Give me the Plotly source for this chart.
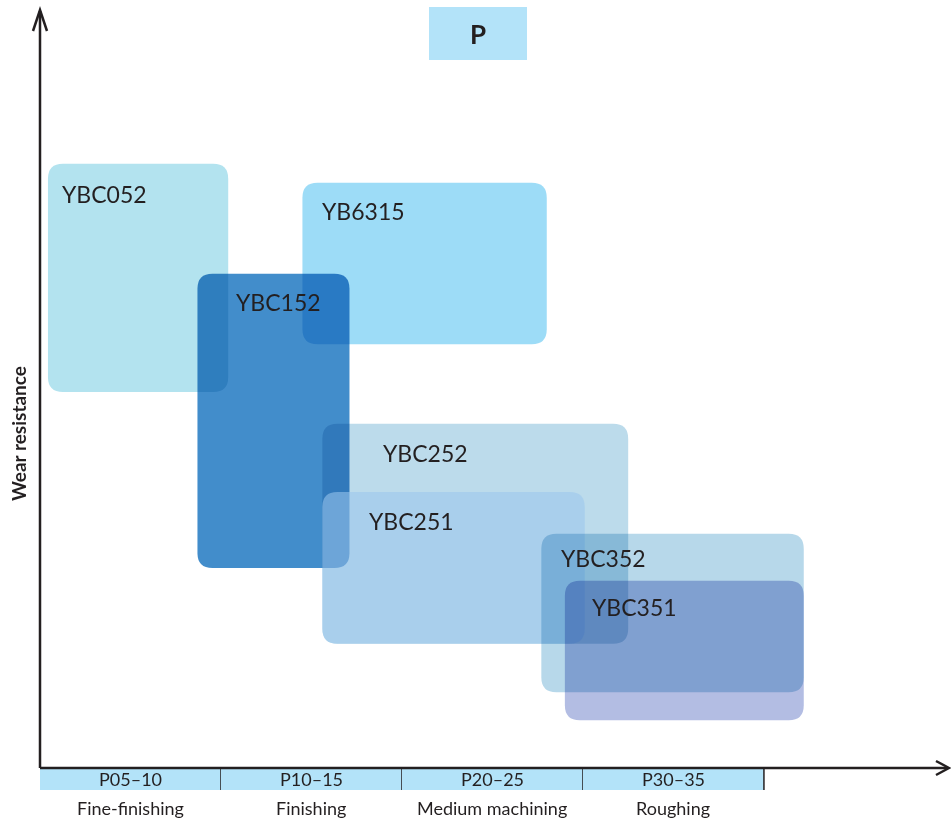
import plotly.graph_objects as go

# ---------------- data ----------------
grades = ["YBC052", "YB6315", "YBC152", "YBC252", "YBC251", "YBC352", "YBC351"]
app_start = [0.044, 1.45, 0.87, 1.56, 1.56, 2.77, 2.90]
app_end = [1.04, 2.80, 1.71, 3.25, 3.01, 4.22, 4.22]
wear_low = [49.6, 55.9, 26.4, 16.4, 16.4, 10.0, 6.3]
wear_high = [79.7, 77.2, 65.2, 45.4, 36.4, 30.9, 24.7]

iso_ranges = ["P05–10", "P10–15", "P20–25", "P30–35"]
operations = ["Fine-finishing", "Finishing", "Medium machining", "Roughing"]
group_label = "P"
y_title = "Wear resistance"

# ---------------- styles ----------------
colors = ["#b3e3ef", "#9ddcf7", "#428dcb", "#bcdbeb", "#9bc6ed", "#b7d8ea", "#b3bde3"]
opac = [1, 1, 1, 1, 0.57, 1, 1]
multiply = [True, True, True, True, False, True, True]
label_off = [(12, 30), (18, 28), (37, 28), (59, 29), (45, 29), (18, 24), (25, 26)]

W, H = 951, 824
L, R, T, B = 40, 3, 10, 56
PW, PH = W - L - R, H - T - B
XMAX = 5.017
YMAX = 100.0
pxx = PW / XMAX
pxy = PH / YMAX
RAD = 15
ink = "#231f20"
band = "#b3e3f9"
FONT = "Lato"


def rounded(x0, x1, y0, y1, r=RAD):
    rx, ry = r / pxx, r / pxy
    return (f"M{x0+rx},{y0} L{x1-rx},{y0} Q{x1},{y0} {x1},{y0+ry} "
            f"L{x1},{y1-ry} Q{x1},{y1} {x1-rx},{y1} L{x0+rx},{y1} "
            f"Q{x0},{y1} {x0},{y1-ry} L{x0},{y0+ry} Q{x0},{y0} {x0+rx},{y0} Z")


def pxX(p):
    return (p - L) / PW


def pxY(p):
    return (H - B - p) / PH


shapes = []
annotations = []
mult_idx = []

for i in range(len(grades)):
    if multiply[i]:
        mult_idx.append(len(shapes))
    shapes.append(dict(type="path", xref="x", yref="y", layer="below",
                       path=rounded(app_start[i], app_end[i], wear_low[i], wear_high[i]),
                       fillcolor=colors[i], opacity=opac[i], line=dict(width=0)))
    dx, dy = label_off[i]
    annotations.append(dict(x=app_start[i], y=wear_high[i], xref="x", yref="y",
                            text=grades[i], showarrow=False, xanchor="left", yanchor="middle",
                            xshift=dx, yshift=-dy,
                            font=dict(family=FONT, size=23, color=ink)))

for k, (rng, op) in enumerate(zip(iso_ranges, operations)):
    shapes.append(dict(type="rect", xref="x", yref="paper", x0=k, x1=k + 1,
                       y0=pxY(790), y1=pxY(769), fillcolor=band, line=dict(width=0), layer="above"))
    shapes.append(dict(type="line", xref="x", yref="paper", x0=k + 1, x1=k + 1,
                       y0=pxY(790), y1=pxY(768), line=dict(color=ink, width=1.5), layer="above"))
    annotations.append(dict(x=k + 0.5, y=pxY(779), xref="x", yref="paper", text=rng,
                            showarrow=False, yanchor="middle",
                            font=dict(family=FONT, size=18, color=ink)))
    annotations.append(dict(x=k + 0.5, y=pxY(808), xref="x", yref="paper", text=op,
                            showarrow=False, yanchor="middle",
                            font=dict(family=FONT, size=18, color=ink)))

shapes.append(dict(type="line", xref="paper", yref="paper", x0=0, x1=0, y0=0, y1=pxY(11),
                   line=dict(color=ink, width=2.5), layer="above"))
shapes.append(dict(type="path", xref="paper", yref="paper", layer="above",
                   path=f"M{pxX(33)},{pxY(31)} L{pxX(40)},{pxY(10)} L{pxX(47)},{pxY(31)}",
                   line=dict(color=ink, width=2.5)))
shapes.append(dict(type="line", xref="paper", yref="paper", x0=0, x1=pxX(948), y0=0, y1=0,
                   line=dict(color=ink, width=2.5), layer="above"))
shapes.append(dict(type="path", xref="paper", yref="paper", layer="above",
                   path=f"M{pxX(936)},{pxY(761)} L{pxX(949)},{pxY(768)} L{pxX(936)},{pxY(775)}",
                   line=dict(color=ink, width=2.5)))

shapes.append(dict(type="rect", xref="paper", yref="paper", x0=pxX(429), x1=pxX(527),
                   y0=pxY(60), y1=pxY(7), fillcolor=band, line=dict(width=0), layer="above"))
annotations.append(dict(x=pxX(478), y=pxY(34), xref="paper", yref="paper",
                        text=f"<b>{group_label}</b>", showarrow=False, yanchor="middle",
                        font=dict(family=FONT, size=26, color=ink)))

annotations.append(dict(x=pxX(18), y=pxY(434), xref="paper", yref="paper",
                        text=f"<b>{y_title}</b>", showarrow=False, textangle=-90,
                        xanchor="center", yanchor="middle",
                        font=dict(family=FONT, size=19, color=ink)))

fig = go.Figure()
fig.update_layout(
    width=W, height=H,
    margin=dict(l=L, r=R, t=T, b=B),
    paper_bgcolor="white", plot_bgcolor="white",
    xaxis=dict(range=[0, XMAX], visible=False, fixedrange=True),
    yaxis=dict(range=[0, YMAX], visible=False, fixedrange=True),
    shapes=shapes, annotations=annotations, showlegend=False,
)

post = """
document.body.style.margin = '0';
document.body.style.padding = '0';
var gd = document.getElementById('{plot_id}');
var MI = %s;
function blendShapes(){
  gd.querySelectorAll('.shapelayer path').forEach(function(p){
    var idx = parseInt(p.getAttribute('data-index'));
    if (MI.indexOf(idx) >= 0) {
      p.style.mixBlendMode = 'multiply';
      var g = p.parentNode;
      if (g && !g.classList.contains('shapelayer')) { g.style.mixBlendMode = 'multiply'; }
    }
  });
}
blendShapes();
if (gd.on) { gd.on('plotly_afterplot', blendShapes); }
setTimeout(blendShapes, 30);
setTimeout(blendShapes, 200);
""" % (str(mult_idx))

fig.write_html("out.html", post_script=post, config={"displayModeBar": False})
